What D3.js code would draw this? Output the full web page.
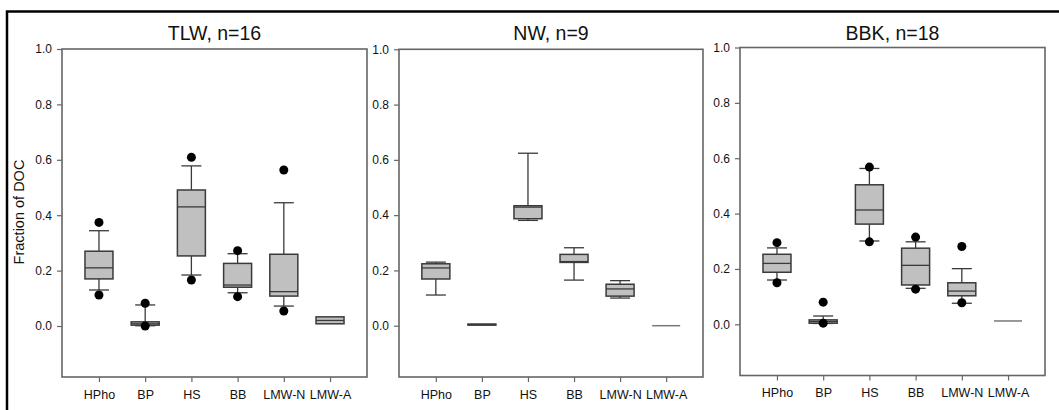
<!DOCTYPE html>
<html>
<head>
<meta charset="utf-8">
<script src="https://cdn.jsdelivr.net/npm/d3@7"></script>
<style>
  html, body { margin: 0; padding: 0; background: #fff; }
  svg { display: block; font-family: "Liberation Sans", Arial, sans-serif; }
</style>
</head>
<body>
<svg id="chart" width="1059" height="410"></svg>
<script>
// DOC fractions by size class, one panel per site
const categories = ["HPho", "BP", "HS", "BB", "LMW-N", "LMW-A"];
const yTicks = [0.0, 0.2, 0.4, 0.6, 0.8, 1.0];
const panelTitles = ["TLW, n=16", "NW, n=9", "BBK, n=18"];

// Each row: [lowerWhisker, q1, median, q3, upperWhisker]
const tlwBoxes = [
  [0.130, 0.170, 0.210, 0.270, 0.344],
  [0.001, 0.003, 0.008, 0.015, 0.076],
  [0.184, 0.253, 0.430, 0.491, 0.578],
  [0.120, 0.140, 0.148, 0.226, 0.261],
  [0.072, 0.108, 0.124, 0.259, 0.445],
  [0.008, 0.008, 0.020, 0.033, 0.033]
];
// Outlying points: [categoryIndex, value]
const tlwOutliers = [
  [0, 0.374], [0, 0.112], [1, 0.082], [1, 0.000], [2, 0.609], [2, 0.166],
  [3, 0.272], [3, 0.106], [4, 0.563], [4, 0.054]
];

const nwBoxes = [
  [0.111, 0.169, 0.209, 0.224, 0.230],
  [0.002, 0.002, 0.004, 0.006, 0.006],
  [0.381, 0.387, 0.429, 0.434, 0.624],
  [0.165, 0.229, 0.232, 0.258, 0.282],
  [0.100, 0.107, 0.133, 0.150, 0.163],
  [0.000, 0.000, 0.000, 0.000, 0.000]
];
const nwOutliers = [];

const bbkBoxes = [
  [0.160, 0.188, 0.220, 0.253, 0.276],
  [0.003, 0.004, 0.010, 0.016, 0.030],
  [0.301, 0.362, 0.413, 0.504, 0.563],
  [0.130, 0.142, 0.213, 0.275, 0.298],
  [0.076, 0.103, 0.120, 0.150, 0.201],
  [0.012, 0.012, 0.012, 0.012, 0.012]
];
const bbkOutliers = [
  [0, 0.295], [0, 0.150], [1, 0.080], [1, 0.004], [2, 0.568], [2, 0.298],
  [3, 0.315], [3, 0.127], [4, 0.281], [4, 0.078]
];

// Panel frames: value 1.0 sits on the frame top, 0.0 at yZero
const panels = [
  { title: panelTitles[0], boxes: tlwBoxes, outliers: tlwOutliers, x0: 62,  x1: 367,  yTop: 49,   yZero: 326,   yBottom: 377 },
  { title: panelTitles[1], boxes: nwBoxes,  outliers: nwOutliers,  x0: 399, x1: 703,  yTop: 49.3, yZero: 325.7, yBottom: 377 },
  { title: panelTitles[2], boxes: bbkBoxes, outliers: bbkOutliers, x0: 740, x1: 1045, yTop: 47.5, yZero: 324.3, yBottom: 375.5 }
];

const svg = d3.select("#chart");

// Outer frame
svg.append("rect")
  .attr("x", 7).attr("y", 11.5)
  .attr("width", 1070).attr("height", 420)
  .attr("fill", "none").attr("stroke", "#000").attr("stroke-width", 2.5);

const axisColor = "#666";
const boxStroke = "#3a3a3a";
const boxFill = "#c0c0c0";
const boxW = 28, capW = 20;

panels.forEach(p => {
  const y = d3.scaleLinear().domain([0, 1]).range([p.yZero, p.yTop]);
  const x = d3.scalePoint().domain(categories).range([p.x0, p.x1]).padding(0.8);

  const g = svg.append("g");

  // Plot frame
  g.append("rect")
    .attr("x", p.x0).attr("y", p.yTop)
    .attr("width", p.x1 - p.x0).attr("height", p.yBottom - p.yTop)
    .attr("fill", "none").attr("stroke", axisColor).attr("stroke-width", 1.6);

  // Y axis
  const yAxis = g.append("g")
    .attr("transform", `translate(${p.x0},0)`)
    .call(d3.axisLeft(y).tickValues(yTicks).tickFormat(d3.format(".1f")).tickSize(5).tickPadding(5));
  yAxis.select(".domain").remove();
  yAxis.selectAll(".tick line").attr("stroke", axisColor).attr("stroke-width", 1.2);
  yAxis.selectAll(".tick text").attr("fill", "#111").style("font-size", "12px");

  // X axis
  const xAxis = g.append("g")
    .attr("transform", `translate(0,${p.yBottom})`)
    .call(d3.axisBottom(x).tickSize(5).tickPadding(8));
  xAxis.select(".domain").remove();
  xAxis.selectAll(".tick line").attr("stroke", axisColor).attr("stroke-width", 1.2);
  xAxis.selectAll(".tick text").attr("fill", "#111").style("font-size", "12.5px").attr("dy", "0.71em");

  // Title
  g.append("text")
    .attr("x", (p.x0 + p.x1) / 2).attr("y", 40)
    .attr("text-anchor", "middle")
    .style("font-size", "19.5px").attr("fill", "#111")
    .text(p.title);

  // Boxes
  const items = g.selectAll("g.box").data(p.boxes.map((b, i) => ({ cat: categories[i], b })))
    .join("g").attr("class", "box")
    .attr("transform", d => `translate(${x(d.cat)},0)`);

  // whiskers
  items.append("line")
    .attr("x1", 0).attr("x2", 0)
    .attr("y1", d => y(d.b[3])).attr("y2", d => y(d.b[4]))
    .attr("stroke", boxStroke).attr("stroke-width", 1.3);
  items.append("line")
    .attr("x1", 0).attr("x2", 0)
    .attr("y1", d => y(d.b[1])).attr("y2", d => y(d.b[0]))
    .attr("stroke", boxStroke).attr("stroke-width", 1.3);
  // caps, only where the whisker extends beyond the box
  items.filter(d => d.b[4] > d.b[3]).append("line")
    .attr("x1", -capW / 2).attr("x2", capW / 2)
    .attr("y1", d => y(d.b[4])).attr("y2", d => y(d.b[4]))
    .attr("stroke", boxStroke).attr("stroke-width", 1.3);
  items.filter(d => d.b[0] < d.b[1]).append("line")
    .attr("x1", -capW / 2).attr("x2", capW / 2)
    .attr("y1", d => y(d.b[0])).attr("y2", d => y(d.b[0]))
    .attr("stroke", boxStroke).attr("stroke-width", 1.3);

  // box body
  items.filter(d => d.b[3] > d.b[1]).append("rect")
    .attr("x", -boxW / 2).attr("width", boxW)
    .attr("y", d => y(d.b[3]))
    .attr("height", d => y(d.b[1]) - y(d.b[3]))
    .attr("fill", boxFill).attr("stroke", boxStroke).attr("stroke-width", 1.5);
  // zero-height boxes draw as a single line
  items.filter(d => d.b[3] === d.b[1]).append("line")
    .attr("x1", -boxW / 2).attr("x2", boxW / 2)
    .attr("y1", d => y(d.b[2])).attr("y2", d => y(d.b[2]))
    .attr("stroke", "#777").attr("stroke-width", 1.5);
  // median
  items.filter(d => d.b[3] > d.b[1]).append("line")
    .attr("x1", -boxW / 2).attr("x2", boxW / 2)
    .attr("y1", d => y(d.b[2])).attr("y2", d => y(d.b[2]))
    .attr("stroke", boxStroke).attr("stroke-width", 1.3);

  // Outliers
  g.selectAll("circle.out").data(p.outliers)
    .join("circle").attr("class", "out")
    .attr("cx", d => x(categories[d[0]]))
    .attr("cy", d => y(d[1]))
    .attr("r", 4.5)
    .attr("fill", "#000");
});

// Y axis label
svg.append("text")
  .attr("transform", "translate(24,212) rotate(-90)")
  .attr("text-anchor", "middle")
  .style("font-size", "14.5px").attr("fill", "#111")
  .text("Fraction of DOC");
</script>
</body>
</html>
